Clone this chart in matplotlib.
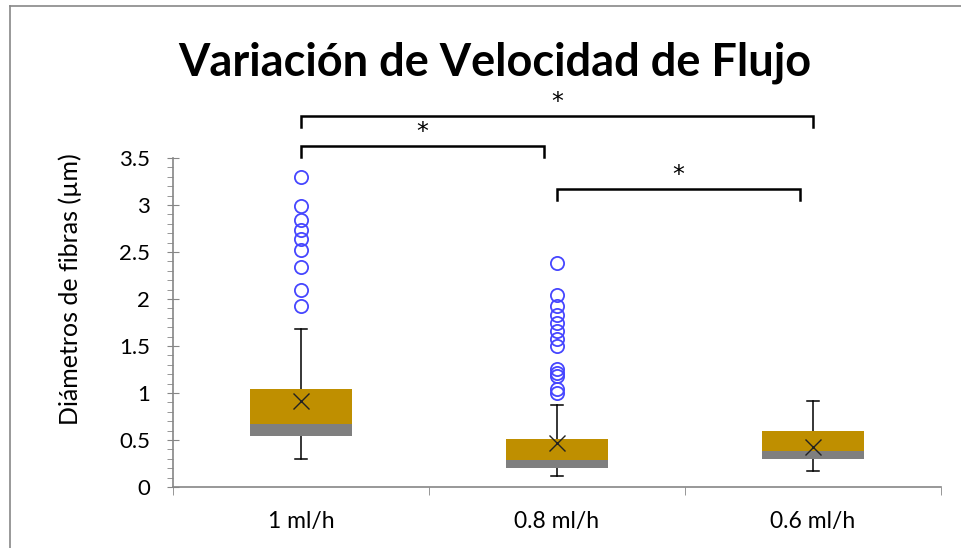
import matplotlib
matplotlib.use("Agg")
import matplotlib.pyplot as plt
from matplotlib.lines import Line2D
from matplotlib.patches import Rectangle
from matplotlib.ticker import MultipleLocator

# datos (µm)
categorias = ["1 ml/h", "0.8 ml/h", "0.6 ml/h"]
q1 = [0.54, 0.20, 0.30]
mediana = [0.67, 0.29, 0.38]
q3 = [1.04, 0.51, 0.60]
bigote_inf = [0.30, 0.12, 0.17]
bigote_sup = [1.68, 0.875, 0.91]
media = [0.91, 0.47, 0.43]
atipicos_1 = [3.30, 2.99, 2.84, 2.73, 2.64, 2.52, 2.34, 2.10, 1.93]
atipicos_08 = [2.38, 2.04, 1.93, 1.83, 1.74, 1.66, 1.57, 1.50, 1.26, 1.21, 1.18, 1.04, 1.00]
atipicos_06 = []
atipicos = [atipicos_1, atipicos_08, atipicos_06]

# comparaciones significativas (desde, hasta, altura, etiqueta)
pares = [(0, 2, 3.95, "*"), (0, 0.95, 3.63, "*"), (1, 1.95, 3.17, "*")]

ORO = "#BF8F00"
GRIS = "#7F7F7F"
EJE = "#868686"

plt.rcParams["font.family"] = ["Lato", "DejaVu Sans"]

fig = plt.figure(figsize=(9.62, 5.48), dpi=100)
ax = fig.add_axes([0.1798, 0.1113, 0.798, 0.6004])

media_w = 0.2
for i in range(len(categorias)):
    # bigotes detrás de la caja
    ax.plot([i, i], [q3[i], bigote_sup[i]], color="black", lw=1.1, zorder=1)
    ax.plot([i, i], [bigote_inf[i], q1[i]], color="black", lw=1.1, zorder=1)
    for yv in (bigote_sup[i], bigote_inf[i]):
        ax.plot([i - 0.023, i + 0.023], [yv, yv], color="black", lw=1.1, zorder=1)
    ax.add_patch(Rectangle((i - media_w, q1[i]), 2 * media_w, mediana[i] - q1[i],
                           facecolor=GRIS, edgecolor="none", zorder=2))
    ax.add_patch(Rectangle((i - media_w, mediana[i]), 2 * media_w, q3[i] - mediana[i],
                           facecolor=ORO, edgecolor="none", zorder=2))
    ax.plot([i], [media[i]], marker="x", ms=11, mew=1.0, color="#222222", zorder=3)
    if atipicos[i]:
        ax.plot([i] * len(atipicos[i]), atipicos[i], ls="none", marker="o", ms=9.5,
                mfc="none", mec="#4646FF", mew=1.3, zorder=3)

# corchetes de significancia
for a, b, h, txt in pares:
    ax.plot([a, a, b, b], [h - 0.12, h, h, h - 0.12], color="black", lw=1.8,
            clip_on=False, solid_joinstyle="miter")
    ax.text((a + b) / 2, h + 0.15, txt, ha="center", va="center", fontsize=17,
            family="DejaVu Sans")

ax.set_xlim(-0.5, 2.5)
ax.set_ylim(0, 3.5)
ax.yaxis.set_minor_locator(MultipleLocator(0.1))
ax.set_yticks([0, 0.5, 1, 1.5, 2, 2.5, 3, 3.5])
ax.set_yticklabels(["0", "0.5", "1", "1.5", "2", "2.5", "3", "3.5"])
ax.set_xticks([0, 1, 2])
ax.set_xticklabels(categorias)
ax.set_xticks([-0.5, 0.5, 1.5, 2.5], minor=True)
ax.tick_params(axis="x", which="major", length=0, pad=17, labelsize=16.5)
ax.tick_params(axis="x", which="minor", length=6, direction="out", color=EJE)
ax.tick_params(axis="y", which="major", length=9, direction="inout", color=EJE,
               labelsize=16, pad=12)
ax.tick_params(axis="y", which="minor", length=4, direction="out", color=EJE)
for s in ("top", "right"):
    ax.spines[s].set_visible(False)
for s in ("left", "bottom"):
    ax.spines[s].set_color(EJE)
    ax.spines[s].set_linewidth(1.2)

ax.set_ylabel("Diámetros de fibras (µm)", fontsize=18)
ax.yaxis.set_label_coords(-0.118, 0.60)

fig.text(0.5146, 0.885, "Variación de Velocidad de Flujo", ha="center", va="center",
         fontsize=32.5, fontweight="bold")

# marco exterior (arriba e izquierda)
fig.add_artist(Line2D([10 / 962, 1], [1 - 6 / 548, 1 - 6 / 548], color="#888888", lw=1.2))
fig.add_artist(Line2D([10 / 962, 10 / 962], [0, 1 - 6 / 548], color="#888888", lw=1.2))

fig.savefig("out.png", dpi=100)
